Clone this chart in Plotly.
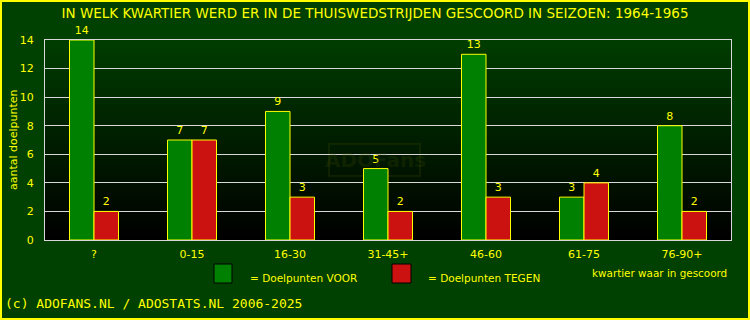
import plotly.graph_objects as go

categories = ["?", "0-15", "16-30", "31-45+", "46-60", "61-75", "76-90+"]
voor = [14, 7, 9, 5, 13, 3, 8]
tegen = [2, 7, 3, 2, 3, 4, 2]
y_ticks = [0, 2, 4, 6, 8, 10, 12, 14]

title_text = "IN WELK KWARTIER WERD ER IN DE THUISWEDSTRIJDEN GESCOORD IN SEIZOEN: 1964-1965"
footer_text = "(c) ADOFANS.NL / ADOSTATS.NL 2006-2025"
yaxis_label = "aantal doelpunten"
xaxis_label = "kwartier waar in gescoord"
legend_voor = "= Doelpunten VOOR"
legend_tegen = "= Doelpunten TEGEN"

W, H = 750, 320
ML, MR, MT, MB = 45, 19, 40, 80
PW = W - ML - MR
PH = H - MT - MB

YEL = "#ffff00"
GREEN = "#008000"
RED = "#cc1111"
BG = "#004000"
FONT = "DejaVu Sans"
WM = "rgba(70,80,0,0.22)"


def px(x):
    return (x - ML) / PW


def py(y):
    return (H - MB - y) / PH


fig = go.Figure()
fig.add_trace(go.Bar(
    x=categories, y=voor, name="VOOR",
    marker=dict(color=GREEN, line=dict(color=YEL, width=1)),
    text=voor, textposition="outside", cliponaxis=False,
    textfont=dict(color=YEL, size=11, family=FONT),
))
fig.add_trace(go.Bar(
    x=categories, y=tegen, name="TEGEN",
    marker=dict(color=RED, line=dict(color=YEL, width=1)),
    text=tegen, textposition="outside", cliponaxis=False,
    textfont=dict(color=YEL, size=11, family=FONT),
))

shapes = []
# gradient background of plot area
n = 50
for i in range(n):
    t = i / (n - 1)
    g = int(round(60 * t))
    shapes.append(dict(type="rect", xref="x domain", yref="y domain",
                       x0=0, x1=1, y0=i / n, y1=(i + 1) / n,
                       fillcolor=f"rgb(0,{g},0)", line=dict(width=0),
                       layer="below"))
# outer yellow border
shapes.append(dict(type="rect", xref="paper", yref="paper",
                   x0=px(1), x1=px(749), y0=py(319), y1=py(1),
                   line=dict(color=YEL, width=2), fillcolor="rgba(0,0,0,0)"))
# legend squares
shapes.append(dict(type="rect", xref="paper", yref="paper",
                   x0=px(214), x1=px(232), y0=py(283), y1=py(264),
                   fillcolor=GREEN, line=dict(color="black", width=1)))
shapes.append(dict(type="rect", xref="paper", yref="paper",
                   x0=px(392), x1=px(411), y0=py(283), y1=py(264),
                   fillcolor=RED, line=dict(color="black", width=1)))
# watermark box
shapes.append(dict(type="rect", xref="paper", yref="paper",
                   x0=px(329), x1=px(420), y0=py(176), y1=py(144),
                   line=dict(color=WM, width=2),
                   fillcolor="rgba(0,0,0,0)", layer="below"))


def ann(text, x, y, size=11, family=FONT, xanchor="left", color=YEL, **kw):
    return dict(text=text, xref="paper", yref="paper", x=px(x), y=py(y),
                xanchor=xanchor, yanchor="middle", showarrow=False,
                font=dict(color=color, size=size, family=family), **kw)


annotations = [
    ann("<b>ADOFans</b>", 375, 160, size=20, xanchor="center", color=WM),
    ann(yaxis_label, 13, 140, xanchor="center", textangle=-90),
    ann(legend_voor, 248, 278, size=10.5),
    ann(legend_tegen, 426, 278, size=10.5),
    ann(xaxis_label, 590, 273, size=10.4),
    ann(footer_text, 3, 303, size=13, family="DejaVu Sans Mono"),
]

fig.update_layout(
    width=W, height=H,
    margin=dict(l=ML, r=MR, t=MT, b=MB),
    paper_bgcolor=BG, plot_bgcolor="rgba(0,0,0,0)",
    barmode="group", bargap=0.5, bargroupgap=0,
    showlegend=False,
    title=dict(text=title_text, x=0.5, xref="container", xanchor="center",
               y=1 - 13 / H, yref="container", yanchor="middle",
               font=dict(color=YEL, size=13.5, family=FONT)),
    shapes=shapes, annotations=annotations,
    xaxis=dict(showgrid=False, showline=True, linecolor="#d8d8d8", linewidth=1,
               mirror=True, ticks="", tickfont=dict(color=YEL, size=11, family=FONT),
               ticklabelstandoff=4, fixedrange=True),
    yaxis=dict(range=[0, 14], tickvals=y_ticks, showgrid=True, gridcolor="#d8d8d8",
               gridwidth=1, showline=True, linecolor="#d8d8d8", linewidth=1,
               mirror=True, zeroline=False, ticks="",
               tickfont=dict(color=YEL, size=11, family=FONT),
               ticklabelstandoff=8, fixedrange=True),
)

fig.write_html("out.html")
